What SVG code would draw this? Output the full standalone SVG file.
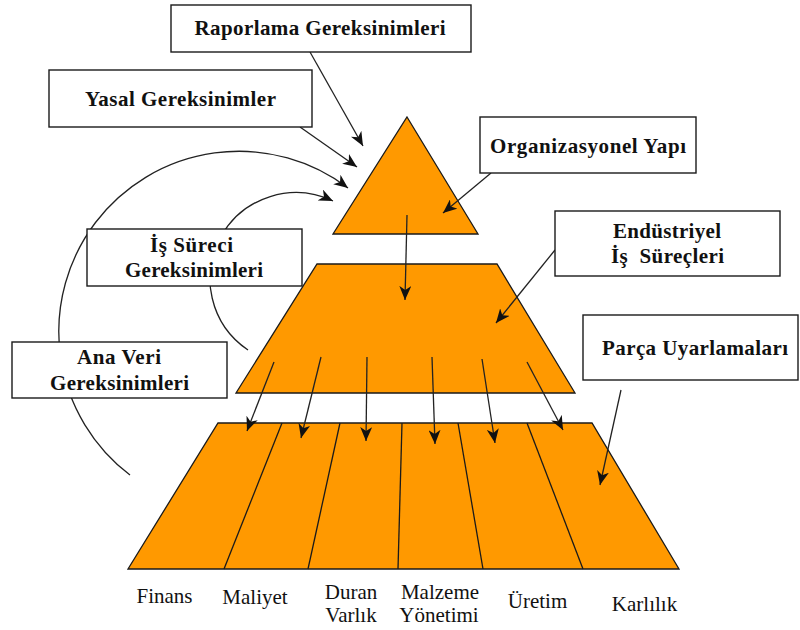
<svg xmlns="http://www.w3.org/2000/svg" width="800" height="630" viewBox="0 0 800 630">
  <style>
    .tier { fill: #FF9900; stroke: #1a1a1a; stroke-width: 1.3; stroke-linejoin: miter; }
    .divider { fill: none; stroke: #1a1a1a; stroke-width: 1.3; }
    .box { fill: #ffffff; stroke: #1a1a1a; stroke-width: 1.4; }
    .boxtext { font-family: Liberation Serif, Times New Roman, Times, serif; font-weight: bold; font-size: 21px; fill: #111111; text-anchor: middle; }
    .label { font-family: Liberation Serif, Times New Roman, Times, serif; font-size: 21px; fill: #111111; text-anchor: middle; }
    .conn { fill: none; stroke: #222222; stroke-width: 1.3; marker-end: url(#head); }
  </style>
  <defs>
    <marker id="head" viewBox="0 0 14 12" refX="14" refY="6" markerWidth="14" markerHeight="12" markerUnits="userSpaceOnUse" orient="auto">
      <path d="M0,0 L14,6 L0,12 L4,6 z" fill="#111111"/>
    </marker>
  </defs>
  <rect width="800" height="630" fill="#ffffff"/>

  <!-- pyramid tiers -->
  <g id="tier-top">
    <polygon class="tier" points="407,117 478,234 333,234"/>
  </g>
  <g id="tier-middle">
    <polygon class="tier" points="317,264 497,264 575,393 236,393"/>
  </g>
  <g id="tier-bottom">
    <polygon class="tier" points="218,423 592,423 679,569 128,569"/>
    <line class="divider" x1="282" y1="423" x2="224" y2="569"/>
    <line class="divider" x1="340" y1="423" x2="308" y2="569"/>
    <line class="divider" x1="402" y1="423" x2="398" y2="569"/>
    <line class="divider" x1="458" y1="423" x2="483" y2="569"/>
    <line class="divider" x1="527" y1="423" x2="583" y2="569"/>
  </g>

  <!-- connectors -->
  <g id="connectors">
    <line class="conn" x1="310" y1="52" x2="363" y2="146"/>
    <line class="conn" x1="300" y1="127" x2="357" y2="167"/>
    <path class="conn" d="M130,475 A178,178 0 1 1 348,188"/>
    <path class="conn" d="M248,350 A86,86 0 0 1 333,201"/>
    <line class="conn" x1="491" y1="173" x2="443" y2="213"/>
    <line class="conn" x1="407" y1="215" x2="405" y2="300"/>
    <line class="conn" x1="555" y1="250" x2="496" y2="323"/>
    <line class="conn" x1="621" y1="390" x2="600" y2="485"/>
    <line class="conn" x1="274" y1="362" x2="247" y2="431"/>
    <line class="conn" x1="321" y1="357" x2="301" y2="438"/>
    <line class="conn" x1="367" y1="357" x2="366" y2="441"/>
    <line class="conn" x1="432" y1="357" x2="435" y2="444"/>
    <line class="conn" x1="482" y1="359" x2="495" y2="443"/>
    <line class="conn" x1="527" y1="362" x2="563" y2="430"/>
  </g>

  <!-- requirement boxes -->
  <g id="raporlama">
    <rect class="box" x="171" y="5" width="300" height="47"/>
    <text class="boxtext" x="320" y="35" textLength="251" lengthAdjust="spacing">Raporlama Gereksinimleri</text>
  </g>
  <g id="yasal">
    <rect class="box" x="49" y="70" width="263" height="57"/>
    <text class="boxtext" x="180.5" y="106" textLength="191" lengthAdjust="spacing">Yasal Gereksinimler</text>
  </g>
  <g id="organizasyonel">
    <rect class="box" x="480" y="117" width="216" height="56"/>
    <text class="boxtext" x="588" y="153" textLength="196" lengthAdjust="spacing">Organizasyonel Yapı</text>
  </g>
  <g id="endustriyel">
    <rect class="box" x="555" y="211" width="225" height="65"/>
    <text class="boxtext" x="667" y="238" textLength="108" lengthAdjust="spacing">Endüstriyel</text>
    <text class="boxtext" x="667.5" y="263" textLength="113" lengthAdjust="spacing" xml:space="preserve">İş  Süreçleri</text>
  </g>
  <g id="is-sureci">
    <rect class="box" x="87" y="229" width="215" height="57"/>
    <text class="boxtext" x="191.5" y="252" textLength="83" lengthAdjust="spacing">İş Süreci</text>
    <text class="boxtext" x="194" y="277" textLength="138" lengthAdjust="spacing">Gereksinimleri</text>
  </g>
  <g id="ana-veri">
    <rect class="box" x="12" y="342" width="215" height="56"/>
    <text class="boxtext" x="119" y="364" textLength="84" lengthAdjust="spacing">Ana Veri</text>
    <text class="boxtext" x="119.5" y="390" textLength="139" lengthAdjust="spacing">Gereksinimleri</text>
  </g>
  <g id="parca">
    <rect class="box" x="583" y="315" width="215" height="65"/>
    <text class="boxtext" x="695" y="355" textLength="186" lengthAdjust="spacing">Parça Uyarlamaları</text>
  </g>

  <!-- module labels under the base -->
  <g id="labels">
    <text class="label" x="164.5" y="603">Finans</text>
    <text class="label" x="255" y="604">Maliyet</text>
    <text class="label" x="351" y="599">Duran</text>
    <text class="label" x="351" y="622">Varlık</text>
    <text class="label" x="440" y="599">Malzeme</text>
    <text class="label" x="439" y="622">Yönetimi</text>
    <text class="label" x="537.5" y="608">Üretim</text>
    <text class="label" x="644.5" y="611">Karlılık</text>
  </g>
</svg>
